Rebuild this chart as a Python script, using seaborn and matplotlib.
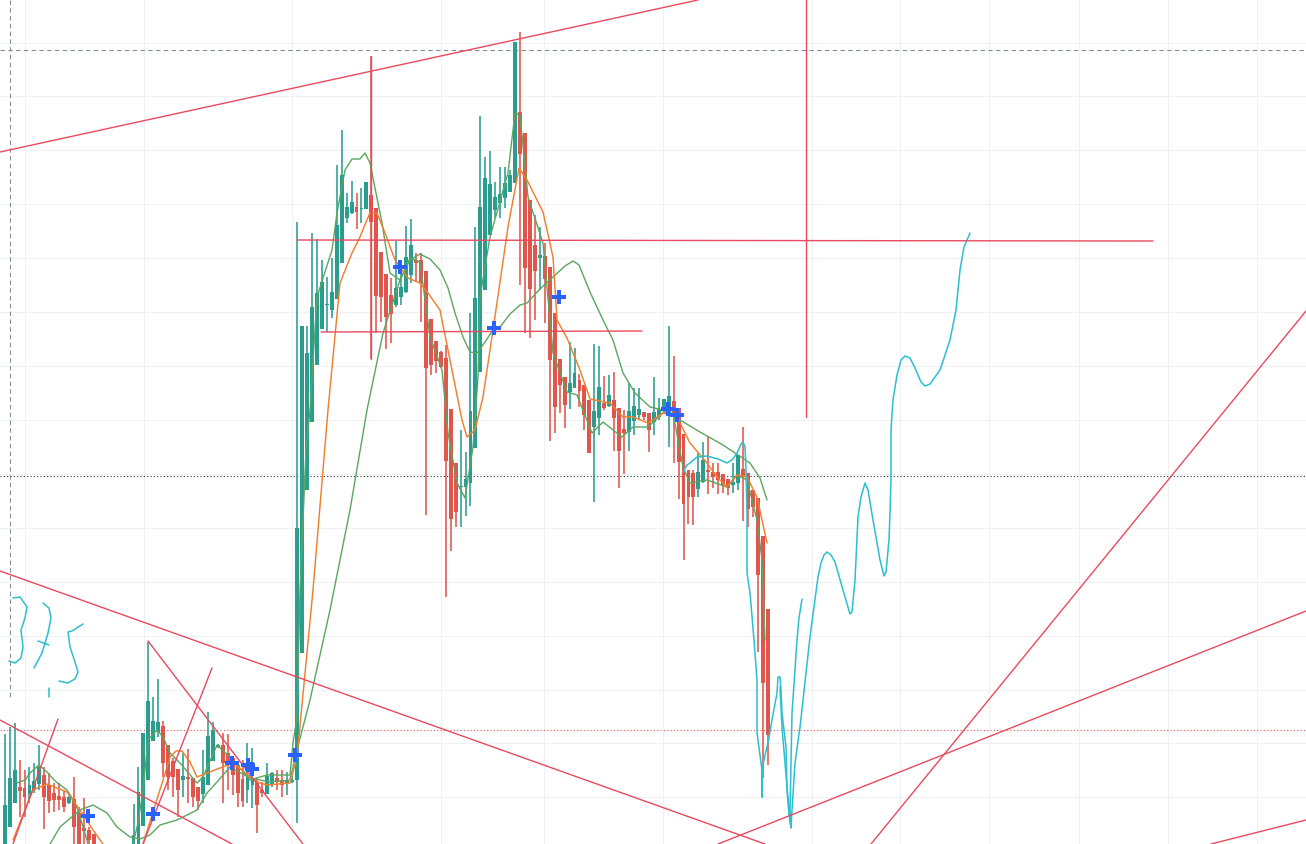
import numpy as np
import pandas as pd
import seaborn as sns
import matplotlib
matplotlib.use("Agg")
import matplotlib.pyplot as plt

# Candles (price scale runs top-down). R = falling, G = rising
candle_color = list("GGGRRGGGRRRRRGRRRRR" + "NNNNNNN" + "GGGGGGRRRRGRRRGGGGRRRRRGGRRGGRRGG"
                    + "GGGGGGGGGGGGRGG" + "RRRRRGGGGRRRRRRRRR" + "GGGGGGGGGGGG"
                    + "RRRRGRRRRRGGRRRGGRGRR" + "RGGGRRGGGGRRRRRGGRRRRRGGRRRRRR")
body_top = [805,778,770,787,788,785,781,767,775,785,793,796,797,797,799,813,828,830,834,
            np.nan,np.nan,np.nan,np.nan,np.nan,np.nan,np.nan,
            835,792,733,701,721,722,726,745,761,769,776,777,778,787,777,736,730,745,745,753,758,765,779,777,778,782,790,776,773,778,780,781,780,
            528,326,353,307,293,282,304,292,225,175,207,202,207,208,182,
            195,208,252,274,295,288,287,257,245,260,260,271,319,341,352,358,409,463,486,479,411,
            298,207,178,184,197,194,183,175,42,112,133,200,245,255,256,267,313,359,377,383,373,380,385,400,411,387,403,395,400,
            408,429,411,406,409,412,413,412,409,399,396,401,408,434,470,473,472,460,470,472,472,474,479,482,455,469,473,490,498,536,609]
body_bot = [844,827,803,791,797,794,790,784,797,801,800,800,807,803,827,844,831,840,850,
            np.nan,np.nan,np.nan,np.nan,np.nan,np.nan,np.nan,
            850,844,826,780,741,732,763,777,777,790,780,779,797,801,794,785,761,747,763,762,775,793,801,790,785,805,793,794,784,782,785,783,782,
            780,653,490,422,365,329,305,310,299,263,218,213,212,209,209,
            222,296,297,317,314,305,297,292,275,263,283,368,365,361,367,461,519,512,487,487,483,
            448,372,290,235,210,203,198,192,183,154,268,289,271,258,279,360,407,385,405,392,388,391,415,453,427,418,408,406,418,
            451,433,432,421,415,417,430,422,417,410,415,417,462,504,497,497,489,482,472,477,480,485,488,485,483,477,509,507,575,683,735]
wick_top = [734,727,723,760,770,767,763,745,767,773,783,783,790,796,777,807,798,827,834,
            np.nan,np.nan,np.nan,np.nan,np.nan,np.nan,np.nan,
            804,767,733,642,697,679,721,745,758,769,753,749,778,787,750,712,722,744,733,734,758,765,760,743,748,778,782,763,772,770,770,772,776,
            222,326,326,233,239,260,277,258,165,130,193,181,193,188,182,
            56,208,252,274,278,241,270,226,219,253,253,271,319,341,351,345,409,463,430,452,313,
            227,116,157,151,182,167,167,170,42,32,133,200,215,227,243,267,313,359,377,342,348,374,385,400,344,346,376,375,372,
            408,410,383,388,388,412,413,377,398,399,326,356,408,434,470,470,453,442,436,463,463,474,479,463,455,427,473,490,498,536,609]
wick_bot = [844,827,803,817,817,803,793,790,829,813,812,810,812,804,844,844,847,844,850,
            np.nan,np.nan,np.nan,np.nan,np.nan,np.nan,np.nan,
            850,844,826,780,741,737,777,790,797,817,797,803,807,810,803,785,761,748,803,790,795,807,807,803,808,833,797,794,787,790,797,795,783,
            823,653,490,422,365,329,332,318,299,263,223,214,229,223,209,
            359,333,322,349,343,307,305,293,283,282,322,515,375,373,368,597,551,527,527,516,506,
            448,372,290,235,218,218,208,192,183,285,333,338,320,290,323,441,433,413,428,409,388,407,430,453,502,435,410,407,451,
            488,474,451,435,420,420,452,435,420,413,447,463,499,560,524,525,497,483,494,488,494,493,495,493,490,521,527,517,652,778,765]
bar_step = 4.955
bar_start = 4.7

# Moving averages
fast_x1 = [17,25,30,39,47,55,67,72,78,84,88]
fast_y1 = [783,780,773,765,772,781,790,798,810,830,844]
fast_x2 = [133,138,143,148,157,163,170,180,197,203,217,233,250,267,290,293,297,300,306,310,317,332,337,345,352,360,365,370,382,390,400,410,420,430,442,448,457,465,473,478,480,490,508,515,520,528,543,553,567,577,592,603,622,633,648,663,673,683,690,707,727,737,747,757,762,765]
fast_y2 = [844,823,790,740,730,737,753,763,783,777,745,760,780,775,775,743,717,590,450,410,297,250,213,170,159,159,153,163,223,273,280,258,262,337,370,433,483,498,447,377,297,237,173,113,115,197,243,353,392,395,433,422,437,427,427,413,413,467,483,480,487,475,480,520,560,640]
slow_x = [50,60,80,93,107,117,130,140,150,160,177,197,207,217,230,250,270,290,297,310,330,350,367,383,400,410,420,430,440,448,455,463,470,477,485,493,500,510,520,527,540,553,565,573,579,590,603,613,623,635,650,663,680,700,723,750,760,767]
slow_y = [844,827,810,805,813,827,837,839,835,825,820,810,793,782,767,778,782,780,750,700,610,510,410,333,280,260,254,259,270,288,313,337,352,353,342,330,327,314,305,303,289,277,266,261,265,292,320,340,373,393,407,410,420,432,445,463,478,500]
orange_x1 = [13,33,47,67,80,93,103]
orange_y1 = [840,790,784,792,810,830,844]
orange_x2 = [143,163,170,176,182,190,197,207,233,257,267,290,297,313,328,340,352,360,366,370,377,385,395,408,420,428,440,450,462,467,475,483,493,508,519,527,543,553,557,567,580,590,610,623,633,648,663,677,690,707,717,727,737,747,757,767]
orange_y2 = [844,780,757,751,751,762,777,773,763,782,785,783,757,590,410,283,253,237,222,213,213,233,260,278,283,293,310,360,420,437,430,397,330,227,168,180,212,257,320,338,370,399,403,417,417,423,413,417,443,463,477,487,475,477,497,543]

# Hand-drawn cyan strokes
cyan_x1 = [683,687,690,697,707,718,727,733,737,741,743,745,746,747,747,750,754,757,757,760,762,762,762,765,768,772,777,778,780,781,782,786,787,789,791,790,792,795,797,799,802]
cyan_y1 = [472,465,463,457,456,459,463,459,453,444,442,447,470,513,573,593,640,680,733,755,770,797,770,755,743,720,693,677,677,690,713,747,790,815,828,813,713,670,640,618,599]
cyan_x2 = [780,782,787,791,795,800,810,818,821,824,827,831,835,843,850,852,855,858,861,865,868,873,880,884,886,889,890,891,891,893,897,901,905,910,915,921,925,930,940,950,956,960,964,970]
cyan_y2 = [687,727,787,826,763,727,637,577,563,555,552,555,562,590,614,612,580,517,497,483,490,520,560,576,572,540,513,480,430,400,375,360,356,358,368,382,386,384,370,340,310,270,247,233]
three_x = [13,20,27,25,21,23,21,15,9]
three_y = [598,597,607,618,630,647,658,663,661]
seven_x = [43,49,51,48,42,34]
seven_y = [603,608,618,633,653,668]
seven_bar_x = [38,49]
seven_bar_y = [641,645]
five_x = [83,72,68,70,75,78,75,68,59]
five_y = [624,631,632,647,662,672,679,683,681]
tick_x = [49,49]
tick_y = [688,697]

# Red trend lines: x start, y start, x end, y end
trend_x0 = [0,0,0,13,148,143,371,297,321,806,718,871,1211]
trend_y0 = [152,571,720,844,641,844,56,240,332,0,844,844,844]
trend_x1 = [698,765,232,58,303,212,371,1153,642,806,1306,1306,1306]
trend_y1 = [0,844,844,719,844,668,359,241,331,417,611,311,820]

# Signal crosses
signal_x = [88,153,232,248,252,295,400,494,559,668,677]
signal_y = [816,814,763,765,769,755,267,328,297,409,415]

# Grid and level lines
grid_y = [43,96,150,204,258,312,366,420,474,528,582,636,690,743,797]
grid_x = [25,144,292,441,544,663,812,900,989,1079,1168,1257]
dash_level = 50
dot_level = 476
red_level = 730
cross_x = 10

GREEN, RED = "#2a9d8f", "#e0564c"
sns.set_theme(style="white")
fig, ax = plt.subplots(figsize=(13.06, 8.44), dpi=100)
ax.set_position([0, 0, 1, 1])

frame = pd.DataFrame({"kind": candle_color, "top": body_top, "bot": body_bot,
                      "high": wick_top, "low": wick_bot})
frame["x"] = bar_start + bar_step * frame.index
frame = frame[frame.kind != "N"]
for kind, col in (("G", GREEN), ("R", RED)):
    part = frame[frame.kind == kind]
    ax.vlines(part.x, part.high, part.low, color=col, lw=1.15, zorder=3)
    ax.bar(part.x, part.bot - part.top, bottom=part.top, width=3.9, color=col, lw=0, zorder=3)

def stroke(xs, ys, color, lw=1.0, z=4):
    sns.lineplot(x=xs, y=ys, sort=False, estimator=None, color=color, lw=lw, ax=ax, zorder=z)

stroke(slow_x, slow_y, "#5ba660")
stroke(fast_x1, fast_y1, "#5ba660")
stroke(fast_x2, fast_y2, "#5ba660")
stroke(orange_x1, orange_y1, "#f0802f", 1.05)
stroke(orange_x2, orange_y2, "#f0802f", 1.05)
for a, b in ((cyan_x1, cyan_y1), (cyan_x2, cyan_y2), (three_x, three_y), (seven_x, seven_y),
             (seven_bar_x, seven_bar_y), (five_x, five_y), (tick_x, tick_y)):
    stroke(a, b, "#2bbfd0", 1.1, 5)
for x0, y0, x1, y1 in zip(trend_x0, trend_y0, trend_x1, trend_y1):
    stroke([x0, x1], [y0, y1], "#e84a5f", 1.0, 6)

sns.scatterplot(x=signal_x, y=signal_y, marker="P", s=95, color="#2962ff", lw=0, ax=ax, zorder=7)

ax.axhline(dash_level, color="#888e99", lw=0.8, ls=(0, (4, 3)), zorder=2)
ax.axhline(dot_level, color="#2b3a3a", lw=0.8, ls=(0, (1, 2)), zorder=2)
ax.axhline(red_level, color="#e0564c", lw=0.8, ls=(0, (1, 2)), zorder=2)
ax.plot([cross_x, cross_x], [0, 700], color="#888e99", lw=0.8, ls=(0, (4, 3)), zorder=2)

ax.set_xlim(0, 1306)
ax.set_ylim(844, 0)
ax.set_xticks(grid_x)
ax.set_yticks(grid_y)
ax.set_xticklabels([])
ax.set_yticklabels([])
ax.tick_params(length=0)
ax.grid(True, color="#eff1f3", lw=0.8)
ax.set_axisbelow(True)
for s in ax.spines.values():
    s.set_visible(False)
ax.set_xlabel("")
ax.set_ylabel("")
fig.savefig("out.png", dpi=100)
